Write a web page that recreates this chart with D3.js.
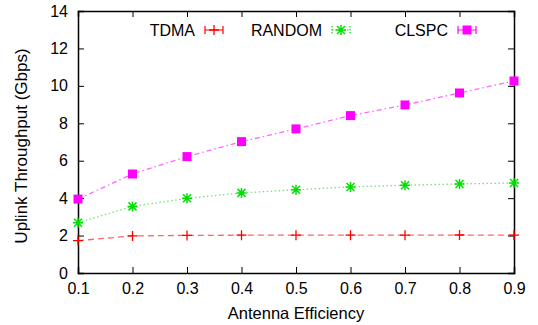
<!DOCTYPE html>
<html>
<head>
<meta charset="utf-8">
<script src="https://cdn.jsdelivr.net/npm/d3@7"></script>
<style>
  body { margin: 0; background: #fff; }
  svg text { font-family: "Liberation Sans", Arial, sans-serif; fill: #000; }
</style>
</head>
<body>
<svg id="chart" width="538" height="325"></svg>
<script>
// data
var efficiency = [0.1, 0.2, 0.3, 0.4, 0.5, 0.6, 0.7, 0.8, 0.9];
var tdma   = [1.73, 1.98, 2.01, 2.02, 2.02, 2.02, 2.02, 2.03, 2.02];
var random = [2.69, 3.56, 3.99, 4.28, 4.45, 4.60, 4.69, 4.76, 4.81];
var clspc  = [3.95, 5.29, 6.22, 7.02, 7.70, 8.41, 8.98, 9.62, 10.26];
var xTicks = [0.1, 0.2, 0.3, 0.4, 0.5, 0.6, 0.7, 0.8, 0.9];
var yTicks = [0, 2, 4, 6, 8, 10, 12, 14];

var series = [
    { name: "TDMA",   values: tdma,   color: "#ff0000", dash: "6,4",       marker: "plus",   legendEnd: 195 },
    { name: "RANDOM", values: random, color: "#00e000", dash: "1.5,2.5",   marker: "star",   legendEnd: 322 },
    { name: "CLSPC",  values: clspc,  color: "#ff00ff", dash: "5,3,1.5,3", marker: "square", legendEnd: 448 }
];

var svg = d3.select("#chart");
var plotLeft = 78, plotRight = 514, plotTop = 11, plotBottom = 273;

var x = d3.scaleLinear().domain([0.1, 0.9]).range([plotLeft, plotRight]);
var y = d3.scaleLinear().domain([0, 14]).range([plotBottom, plotTop]);

// axes, ticks pointing inward
svg.append("g")
    .attr("transform", "translate(0," + plotBottom + ")")
    .call(d3.axisBottom(x).tickValues(xTicks).tickSize(-6).tickPadding(10).tickFormat(d3.format(".1f")));
svg.append("g")
    .attr("transform", "translate(0," + plotTop + ")")
    .call(d3.axisTop(x).tickValues(xTicks).tickSize(-6).tickFormat(""));
svg.append("g")
    .attr("transform", "translate(" + plotLeft + ",0)")
    .call(d3.axisLeft(y).tickValues(yTicks).tickSize(-6).tickPadding(10));
svg.append("g")
    .attr("transform", "translate(" + plotRight + ",0)")
    .call(d3.axisRight(y).tickValues(yTicks).tickSize(-6).tickFormat(""));

svg.selectAll(".domain").attr("stroke", "#000").attr("stroke-width", 1.5);
svg.selectAll(".tick line").attr("stroke", "#000").attr("stroke-width", 1);
svg.selectAll(".tick text").style("font-size", "16px").style("font-family", "Liberation Sans, Arial, sans-serif").attr("fill", "#000");

// axis titles
svg.append("text")
    .attr("x", 296).attr("y", 319)
    .attr("text-anchor", "middle").style("font-size", "16.5px")
    .text("Antenna Efficiency");
svg.append("text")
    .attr("transform", "translate(27,146) rotate(-90)")
    .attr("text-anchor", "middle").style("font-size", "17px")
    .text("Uplink Throughput (Gbps)");

function drawMarker(g, type, cx, cy, color) {
    if (type == "plus") {
        g.append("path")
            .attr("d", "M" + (cx - 5) + "," + cy + "H" + (cx + 5) + "M" + cx + "," + (cy - 5) + "V" + (cy + 5))
            .attr("stroke", color).attr("stroke-width", 1.3).attr("fill", "none");
    } else if (type == "star") {
        g.append("path")
            .attr("d", "M" + (cx - 5) + "," + cy + "H" + (cx + 5) + "M" + cx + "," + (cy - 5) + "V" + (cy + 5) +
                "M" + (cx - 4) + "," + (cy - 4) + "L" + (cx + 4) + "," + (cy + 4) +
                "M" + (cx - 4) + "," + (cy + 4) + "L" + (cx + 4) + "," + (cy - 4))
            .attr("stroke", color).attr("stroke-width", 1.5).attr("fill", "none");
    } else {
        g.append("rect")
            .attr("x", cx - 4.5).attr("y", cy - 4.5).attr("width", 9).attr("height", 9)
            .attr("fill", color);
    }
}

var line = d3.line()
    .x((d, i) => x(efficiency[i]))
    .y(d => y(d));

series.forEach(function (s) {
    var g = svg.append("g");
    g.append("path")
        .datum(s.values)
        .attr("fill", "none")
        .attr("stroke", s.color)
        .attr("stroke-opacity", 0.6)
        .attr("stroke-width", 1.3)
        .attr("stroke-dasharray", s.dash)
        .attr("d", line);
    s.values.forEach(function (v, i) {
        drawMarker(g, s.marker, x(efficiency[i]), y(v), s.color);
    });

    // legend entry: name, then a small error-bar sample with marker
    var ly = 30;
    svg.append("text")
        .attr("x", s.legendEnd).attr("y", ly + 6)
        .attr("text-anchor", "end").style("font-size", "16px")
        .text(s.name);
    var lx0 = s.legendEnd + 10, lx1 = s.legendEnd + 28;
    var lg = svg.append("g");
    lg.append("path")
        .attr("d", "M" + lx0 + "," + ly + "H" + lx1 + "M" + lx0 + "," + (ly - 4) + "V" + (ly + 4) + "M" + lx1 + "," + (ly - 4) + "V" + (ly + 4))
        .attr("stroke", s.color).attr("stroke-width", 1.2).attr("fill", "none")
        .attr("stroke-dasharray", s.marker == "star" ? "1.5,1.5" : null);
    drawMarker(lg, s.marker, (lx0 + lx1) / 2, ly, s.color);
});
</script>
</body>
</html>
